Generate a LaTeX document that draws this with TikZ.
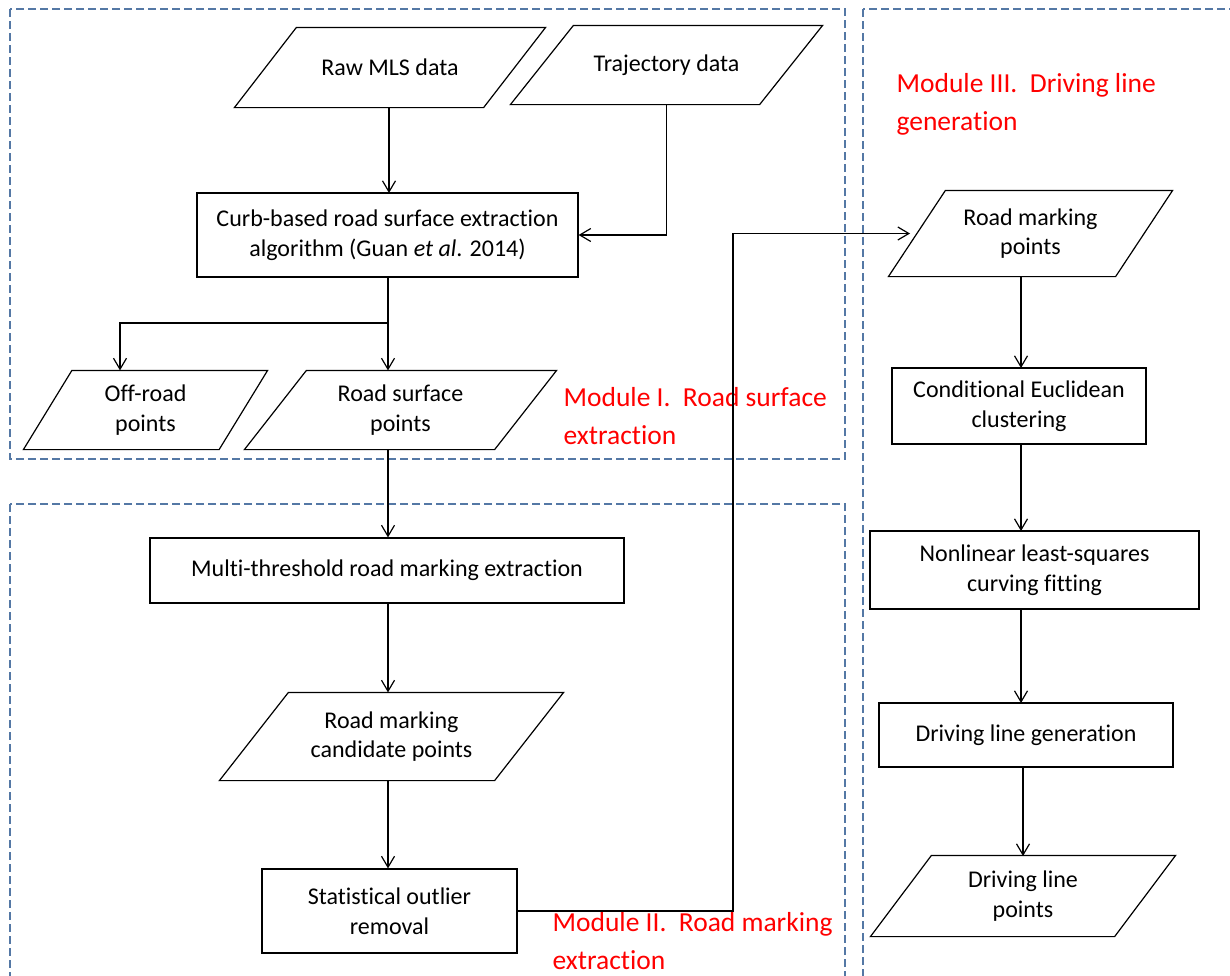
\documentclass[tikz,border=0pt]{standalone}
\usepackage{fontspec}
\setmainfont{Carlito}[Ligatures={NoCommon,NoRare,NoContextual}]
\usetikzlibrary{arrows.meta}
\definecolor{dashblue}{RGB}{84,120,165}
\definecolor{modred}{RGB}{255,0,0}
\newcommand{\paral}[2]{\draw ([xshift=#2pt]#1.north west) -- (#1.north east) -- ([xshift=-#2pt]#1.south east) -- (#1.south west) -- cycle;}
\begin{document}
\begin{tikzpicture}[x=1pt,y=-1pt,line width=1.2pt,
  arr/.style={draw,-{Straight Barb[length=11pt,width=13pt]}},
  procbox/.style={draw,rectangle,inner sep=0pt,align=center,font=\fontsize{24}{29.5}\selectfont},
  databox/.style={rectangle,inner sep=0pt,align=center,font=\fontsize{24}{29.5}\selectfont},
  modlabel/.style={text=modred,inner sep=0pt,align=left,anchor=north west,font=\fontsize{27.5}{38}\selectfont},
  frame/.style={draw=dashblue,dash pattern=on 8pt off 4pt,line width=1.2pt}
]
\useasboundingbox (0,0) rectangle (1230,975);
\clip (0,0) rectangle (1230,975);

% module frames
\draw[frame] (10,9) rectangle (845,459);
\draw[frame] (10,504) rectangle (845,990);
\draw[frame] (863,9) rectangle (1245,990);

% nodes
\node[databox,minimum width=310pt,minimum height=79pt] (raw) at (390,67.5) {Raw MLS data};
\node[databox,minimum width=311pt,minimum height=78pt] (traj) at (666.5,65) {Trajectory data};
\node[procbox,minimum width=381pt,minimum height=84pt] (curb) at (387.5,235) {Curb-based road surface extraction\\algorithm (Guan \textit{et al}. 2014)};
\node[databox,minimum width=243pt,minimum height=78pt] (offroad) at (145.5,410) {Off-road\\points};
\node[databox,minimum width=311pt,minimum height=78pt] (surf) at (400.5,410) {Road surface\\points};
\node[procbox,minimum width=474pt,minimum height=65pt] (multi) at (387,570.5) {Multi-threshold road marking extraction};
\node[databox,minimum width=343pt,minimum height=87pt] (cand) at (391.5,736.5) {Road marking\\candidate points};
\node[procbox,minimum width=255pt,minimum height=84pt] (stat) at (389.5,911) {Statistical outlier\\removal};
\node[databox,minimum width=283pt,minimum height=85pt] (rmp) at (1030.5,233.5) {Road marking\\points};
\node[procbox,minimum width=254pt,minimum height=76pt] (cond) at (1019,406) {Conditional Euclidean\\clustering};
\node[procbox,minimum width=329pt,minimum height=78pt] (nonlin) at (1034.5,570) {Nonlinear least-squares\\curving fitting};
\node[procbox,minimum width=294pt,minimum height=64pt] (dlg) at (1026,735) {Driving line generation};
\node[databox,minimum width=304pt,minimum height=80pt] (dlp) at (1023,896) {Driving line\\points};

% parallelogram outlines
\paral{raw}{62}
\paral{traj}{63}
\paral{offroad}{48.5}
\paral{surf}{62}
\paral{cand}{69}
\paral{rmp}{57}
\paral{dlp}{61}

% labels
\node[modlabel] (m1) at (563,387) {Module I.\ \ Road surface\\extraction};
\node[modlabel] (m2) at (552,912) {Module II.\ \ Road marking\\extraction};
\node[modlabel] (m3) at (896,73) {Module III.\ \ Driving line\\generation};

% helper coordinates
\coordinate (split) at (388,323);
\coordinate (offin) at (120,323);
\coordinate (turn) at (733,233.5);
\coordinate (rmpin) at (910,233.5);

% connectors
\draw[arr] (389,107) -- (389,193);
\draw[arr] (traj.south) |- (curb.east);
\draw (split |- curb.south) -- (split);
\draw[arr] (split) -- (offin) -- (offin |- offroad.north);
\draw[arr] (split) -- (split |- surf.north);
\draw[arr] (split |- surf.south) -- (split |- multi.north);
\draw[arr] (split |- multi.south) -- (split |- cand.north);
\draw[arr] (split |- cand.south) -- (split |- stat.north);
\draw[arr] (stat.east) -| (turn) -- (rmpin);
\draw[arr] (1021,276) -- (1021,368);
\draw[arr] (1021,444) -- (1021,531);
\draw[arr] (1021,609) -- (1021,703);
\draw[arr] (1023,767) -- (1023,856);
\end{tikzpicture}
\end{document}
